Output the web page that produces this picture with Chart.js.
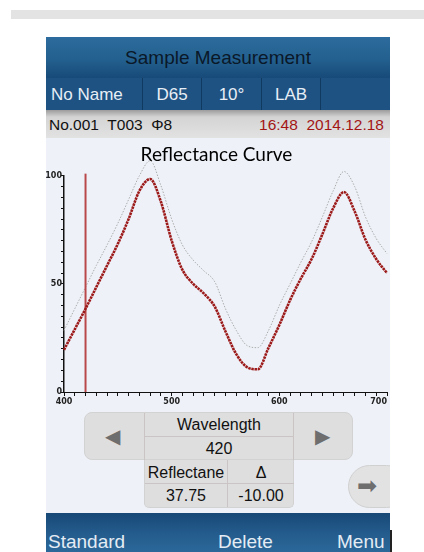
<!DOCTYPE html>
<html>
<head>
<meta charset="utf-8">
<script src="https://cdn.jsdelivr.net/npm/chart.js"></script>
<style>
  body { margin:0; width:424px; height:552px; background:#fff; position:relative; overflow:hidden; font-family:"Liberation Sans", Arial, sans-serif; }
  .topbar { position:absolute; left:11px; top:10px; width:413px; height:9px; background:#e3e3e3; }
  .edge { position:absolute; left:390px; top:530px; width:2px; height:22px; background:#222; }
  .screen { position:absolute; left:46px; top:37px; width:344px; height:515px; background:#eef2f8; overflow:hidden; }
  .header { position:absolute; left:0; top:0; width:344px; height:41px; background:linear-gradient(#2c6b9d, #23608f 55%, #174a78); color:#0a1828; font-size:19px; text-align:center; line-height:42px; }
  .tabs { position:absolute; left:0; top:41px; width:344px; height:32px; background:#1d5282; }
  .tab { position:absolute; top:0; height:32px; line-height:33px; color:#e8eef6; font-size:17px; text-align:center; border-right:1px solid #113a60; box-sizing:border-box; }
  .info { position:absolute; left:0; top:73px; width:344px; height:28px; background:linear-gradient(#9c9c9c, #d4d4d4 25%, #e2e2e2); font-size:15.5px; line-height:30px; }
  .info .l { position:absolute; left:3px; color:#111; }
  .info .r { position:absolute; right:6px; color:#a31515; }
  .chartbox { position:absolute; left:0; top:101px; width:344px; height:270px; }
  .panel { position:absolute; left:38px; top:375px; width:269px; height:48px; background:#dedede; border:1px solid #d2d2d2; border-radius:8px; box-sizing:border-box; }
  .cell { position:absolute; box-sizing:border-box; text-align:center; color:#111; font-size:16px; }
  .arrow { position:absolute; color:#6e6e6e; font-size:20px; }
  .table { position:absolute; left:98px; top:423px; width:150px; height:48px; background:#dedede; border:1px solid #d2d2d2; border-top:none; border-radius:0 0 5px 5px; box-sizing:border-box; }
  .round { position:absolute; left:302px; top:428px; width:60px; height:43px; background:#e2e2e2; border:1px solid #d0d0d0; border-radius:22px; box-sizing:border-box; }
  .round span { position:absolute; left:8px; top:6px; font-family:"DejaVu Sans"; font-size:24px; color:#6e6e6e; }
  .bottom { position:absolute; left:0; top:476px; width:344px; height:39px; background:linear-gradient(#174876, #235b8c 50%, #2b6899); color:#e4ecf4; font-size:19px; }
  .bottom span { position:absolute; top:18px; }
</style>
</head>
<body>
<div class="topbar"></div>
<div class="screen">
  <div class="header">Sample Measurement</div>
  <div class="tabs">
    <div class="tab" style="left:0;width:97px;text-align:left;padding-left:5px;">No Name</div>
    <div class="tab" style="left:97px;width:59px;">D65</div>
    <div class="tab" style="left:156px;width:60px;">10°</div>
    <div class="tab" style="left:216px;width:59px;">LAB</div>
    <div class="tab" style="left:275px;width:69px;border-right:none;"></div>
  </div>
  <div class="info"><span class="l">No.001&nbsp; T003&nbsp; Φ8</span><span class="r">16:48&nbsp; 2014.12.18</span></div>
  <div class="chartbox"><canvas id="curve" width="344" height="270"></canvas></div>

  <div class="panel">
    <span class="arrow" style="left:20px;top:11px;">◀</span>
    <div class="cell" style="left:59px;top:0;width:150px;height:24px;line-height:24px;border-left:1px solid #cbc4c4;border-right:1px solid #cbc4c4;border-bottom:1px solid #cbc4c4;">Wavelength</div>
    <div class="cell" style="left:59px;top:24px;width:150px;height:23px;line-height:23px;border-left:1px solid #cbc4c4;border-right:1px solid #cbc4c4;">420</div>
    <span class="arrow" style="left:230px;top:11px;">▶</span>
  </div>
  <div class="table">
    <div class="cell" style="left:0;top:0;width:83px;height:24px;line-height:25px;border-right:1px solid #cbc4c4;border-bottom:1px solid #cbc4c4;">Reflectane</div>
    <div class="cell" style="left:83px;top:0;width:66px;height:24px;line-height:25px;border-bottom:1px solid #cbc4c4;">Δ</div>
    <div class="cell" style="left:0;top:24px;width:83px;height:23px;line-height:24px;border-right:1px solid #cbc4c4;">37.75</div>
    <div class="cell" style="left:83px;top:24px;width:66px;height:23px;line-height:24px;">-10.00</div>
  </div>
  <div class="round"><span>➡</span></div>

  <div class="bottom">
    <span style="left:2px;">Standard</span>
    <span style="left:172px;">Delete</span>
    <span style="left:291px;">Menu</span>
  </div>
</div>
<div class="edge"></div>

<script>
// wavelengths in nm, reflectance in %
const wavelengths = [400, 410, 420, 430, 440, 450, 460, 470, 480, 490, 500, 510, 520, 530, 540, 550,
                     560, 570, 580, 590, 600, 610, 620, 630, 640, 650, 660, 670, 680, 690, 700];
const sampleReflectance = [19.5, 29, 38.5, 48.5, 58.5, 68.5, 80, 93, 98.5, 88, 70, 56.5, 50, 45.5, 39.5, 28,
                           17.5, 11.5, 10.5, 20.5, 31, 42.5, 52.5, 61.5, 73, 85, 92.5, 83.5, 70.5, 61.5, 55];
const standardReflectance = [28.5, 38.5, 48.5, 58.5, 68, 78, 89, 100, 107, 95.5, 80, 68, 61, 56, 51, 38.5,
                             28.5, 21.5, 20.5, 28.5, 40, 50, 60, 69.5, 81, 93, 102, 95, 81, 71, 64];
const xLabels = [400, 500, 600, 700];
const yLabels = [0, 50, 100];
const markerWavelength = 420;
const markerRange = [0, 101];

const toPoints = (xs, ys) => xs.map((x, i) => ({ x: x, y: ys[i] }));

const tickFont = { family: "DejaVu Sans", size: 8, weight: "bold" };

new Chart(document.getElementById("curve"), {
    type: "line",
    data: {
        datasets: [{
            data: toPoints(wavelengths, sampleReflectance),
            borderColor: "#9c1a1a",
            borderWidth: 2.6,
            borderDash: [2.5, 0.7],
            pointRadius: 0,
            cubicInterpolationMode: "monotone",
            clip: false
        }, {
            data: markerRange.map(v => ({ x: markerWavelength, y: v })),
            borderColor: "#b9484b",
            borderWidth: 2,
            pointRadius: 0,
            clip: false
        }, {
            data: toPoints(wavelengths, standardReflectance),
            borderColor: "#ababab",
            borderWidth: 1,
            borderDash: [1.5, 1.5],
            pointRadius: 0,
            cubicInterpolationMode: "monotone",
            clip: false
        }]
    },
    options: {
        responsive: false,
        animation: false,
        events: [],
        layout: { autoPadding: false, padding: { left: 0, right: 3, top: 0, bottom: 0 } },
        plugins: {
            legend: { display: false },
            tooltip: { enabled: false },
            title: {
                display: true,
                text: "Reflectance Curve",
                color: "#000",
                font: { family: "Lato", size: 19, weight: "normal", lineHeight: 1.2 },
                padding: { top: 5, bottom: 10 }
            }
        },
        scales: {
            x: {
                type: "linear",
                min: 400,
                max: 700,
                afterFit: s => { s.height = 16; s.paddingLeft = 0; s.paddingRight = 0; },
                border: { color: "#111", width: 1 },
                grid: { drawOnChartArea: false, tickLength: 4, color: "#111" },
                ticks: {
                    stepSize: 10, autoSkip: false, maxRotation: 0, padding: 1,
                    font: tickFont, color: "#222",
                    // last label sits left of its tick, like on the device
                    callback: v => !xLabels.includes(v) ? "" : (v === 700 ? "700      " : String(v))
                }
            },
            y: {
                min: 0,
                max: 100,
                afterFit: s => { s.width = 18; s.paddingTop = 0; s.paddingBottom = 0; },
                border: { color: "#111", width: 1.5 },
                grid: { drawOnChartArea: false, tickLength: 3, color: "#111" },
                ticks: {
                    stepSize: 5, autoSkip: false, padding: -1,
                    font: tickFont, color: "#222",
                    callback: v => yLabels.includes(v) ? String(v) : ""
                }
            }
        }
    }
});
</script>
</body>
</html>
